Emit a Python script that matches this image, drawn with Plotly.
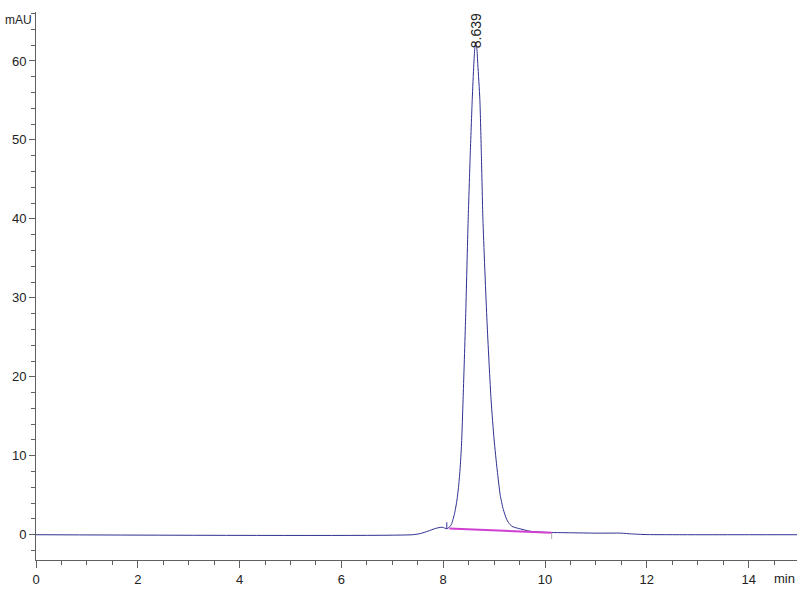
import plotly.graph_objects as go

# chromatogram (min, mAU)
time_min = [0.0, 7.40, 7.55, 7.70, 7.85, 7.98, 8.07, 8.11, 8.16, 8.19, 8.23, 8.27,
            8.30, 8.33, 8.36, 8.39, 8.44, 8.49, 8.53, 8.57, 8.60, 8.62, 8.639, 8.66,
            8.68, 8.72, 8.75, 8.78, 8.86, 8.94, 9.00, 9.06, 9.12, 9.18, 9.25, 9.31,
            9.37, 9.51, 9.70, 10.0, 10.5, 11.0, 11.5, 11.7, 12.0, 14.0, 14.95]
signal_mau = [0.0, 0.0, 0.15, 0.45, 0.8, 0.95, 0.75, 0.9, 1.3, 1.9, 2.9, 4.4,
              6.0, 8.2, 11.5, 17.1, 27.5, 39.9, 48.0, 55.1, 59.5, 61.6, 62.4, 61.6,
              59.5, 55.1, 48.0, 39.9, 27.0, 17.1, 12.0, 8.2, 5.0, 3.2, 1.9, 1.3,
              1.0, 0.75, 0.45, 0.3, 0.25, 0.2, 0.2, 0.1, 0.02, 0.0, 0.0]

# integration baseline (magenta)
base_time = [8.12, 10.13]
base_mau = [0.78, 0.25]

peak_rt = 8.639
peak_height = 62.4

x_ticks = [0, 2, 4, 6, 8, 10, 12, 14]
y_ticks = [0, 10, 20, 30, 40, 50, 60]

AXIS = '#606060'
TRACE = '#2e3192'
FONT = 'Arial, Liberation Sans, sans-serif'

fig = go.Figure()
fig.add_trace(go.Scatter(x=time_min, y=signal_mau, mode='lines',
                         line=dict(color=TRACE, width=1, shape='spline', smoothing=0.6),
                         hoverinfo='x+y'))
fig.add_trace(go.Scatter(x=base_time, y=base_mau, mode='lines',
                         line=dict(color='#d040d0', width=2)))

# peak start / end markers
fig.add_shape(type='line', x0=base_time[0] - 0.05, x1=base_time[0] - 0.05,
              y0=base_mau[0], y1=base_mau[0] + 0.8, line=dict(color=TRACE, width=1))
fig.add_shape(type='line', x0=base_time[1], x1=base_time[1],
              y0=base_mau[1], y1=base_mau[1] - 0.8, line=dict(color='#b0b0b0', width=1))

fig.add_annotation(x=peak_rt, y=peak_height, text=f'{peak_rt:.3f}', textangle=-90,
                   showarrow=False, xanchor='center', yanchor='bottom', yshift=-8,
                   font=dict(family=FONT, size=14, color='#222'))

fig.add_annotation(xref='paper', yref='paper', x=-0.003, y=0.985, text='mAU',
                   showarrow=False, xanchor='right', yanchor='middle',
                   font=dict(family=FONT, size=12, color='#222'))
fig.add_annotation(xref='paper', yref='paper', x=1.0, y=-0.017, text='min',
                   showarrow=False, xanchor='right', yanchor='top',
                   font=dict(family=FONT, size=13, color='#222'))

fig.update_layout(
    width=800, height=600,
    paper_bgcolor='white', plot_bgcolor='white',
    showlegend=False,
    margin=dict(l=36, r=3, t=12, b=40),
    font=dict(family=FONT, size=13, color='#222'),
    xaxis=dict(range=[0, 14.95], tickvals=x_ticks, showgrid=False, zeroline=False,
               automargin=False, showline=True, linecolor=AXIS, linewidth=1,
               ticks='outside', ticklen=7, tickcolor=AXIS,
               minor=dict(dtick=0.5, ticks='outside', ticklen=4, tickcolor=AXIS)),
    yaxis=dict(range=[-3.2, 66.2], tickvals=y_ticks, showgrid=False, zeroline=False,
               automargin=False, showline=True, linecolor=AXIS, linewidth=1,
               ticks='outside', ticklen=6, tickcolor=AXIS,
               minor=dict(dtick=2, ticks='outside', ticklen=4, tickcolor=AXIS)),
)

fig.write_html("out.html", config={'displayModeBar': False},
               post_script="document.body.style.margin='0';")
